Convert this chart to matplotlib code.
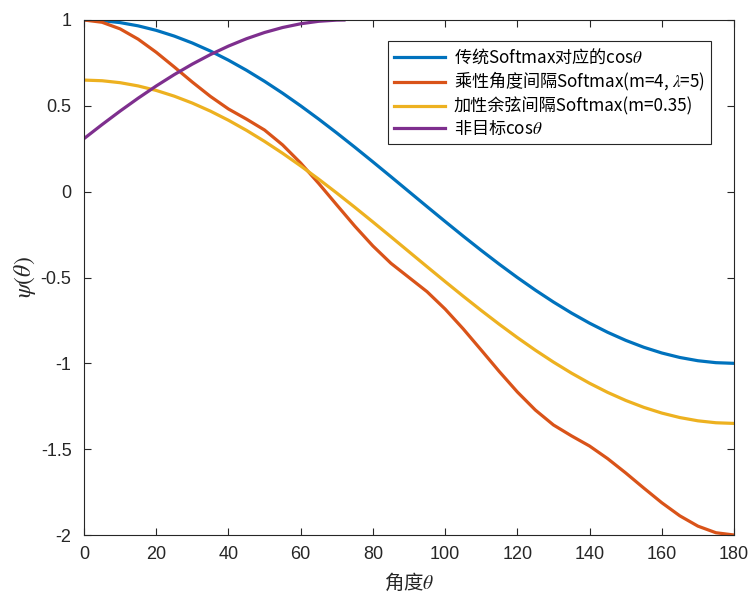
import numpy as np
import matplotlib
matplotlib.use("Agg")
import matplotlib.pyplot as plt

plt.rcParams['font.family'] = ['Liberation Sans', 'Noto Sans CJK SC', 'DejaVu Sans']
plt.rcParams['mathtext.fontset'] = 'stix'

# angle samples (degrees)
theta = [0, 5, 10, 15, 20, 25, 30, 35, 40, 45, 50, 55, 60, 65, 70, 75, 80, 85, 90,
         95, 100, 105, 110, 115, 120, 125, 130, 135, 140, 145, 150, 155, 160, 165, 170, 175, 180]

# traditional softmax, cos(theta)
psi_softmax = [1.0, 0.9962, 0.9848, 0.9659, 0.9397, 0.9063, 0.8660, 0.8192, 0.7660, 0.7071,
               0.6428, 0.5736, 0.5, 0.4226, 0.3420, 0.2588, 0.1736, 0.0872, 0.0,
               -0.0872, -0.1736, -0.2588, -0.3420, -0.4226, -0.5, -0.5736, -0.6428, -0.7071,
               -0.7660, -0.8192, -0.8660, -0.9063, -0.9397, -0.9659, -0.9848, -0.9962, -1.0]

# multiplicative angular margin (m=4, lambda=5)
psi_angular = [1.0, 0.9868, 0.9483, 0.8883, 0.8120, 0.7263, 0.6383, 0.5550, 0.4817, 0.4226,
               0.3590, 0.2723, 0.1667, 0.0478, -0.0773, -0.2010, -0.3163, -0.4173, -0.5,
               -0.5827, -0.6837, -0.7990, -0.9227, -1.0478, -1.1667, -1.2723, -1.3590, -1.4226,
               -1.4817, -1.5550, -1.6383, -1.7263, -1.8120, -1.8883, -1.9483, -1.9868, -2.0]

# additive cosine margin (m=0.35)
psi_cosine = [0.65, 0.6462, 0.6348, 0.6159, 0.5897, 0.5563, 0.5160, 0.4692, 0.4160, 0.3571,
              0.2928, 0.2236, 0.15, 0.0726, -0.0080, -0.0912, -0.1764, -0.2628, -0.35,
              -0.4372, -0.5236, -0.6088, -0.6920, -0.7726, -0.85, -0.9236, -0.9928, -1.0571,
              -1.1160, -1.1692, -1.2160, -1.2563, -1.2897, -1.3159, -1.3348, -1.3462, -1.35]

# non-target cos
theta_nt = [0, 5, 10, 15, 20, 25, 30, 35, 40, 45, 50, 55, 60, 65, 70, 72]
psi_nontarget = [0.3090, 0.3907, 0.4695, 0.5446, 0.6157, 0.6820, 0.7431, 0.7986, 0.8480,
                 0.8910, 0.9272, 0.9563, 0.9781, 0.9925, 0.9994, 1.0]

labels = [r'传统Softmax对应的cos$\theta$',
          r'乘性角度间隔Softmax(m=4, $\lambda$=5)',
          r'加性余弦间隔Softmax(m=0.35)',
          r'非目标cos$\theta$']
colors = ['#0072BD', '#D95319', '#EDB120', '#7E2F8E']

fig = plt.figure(figsize=(7.52, 5.97), dpi=100)
ax = fig.add_axes([84 / 752, 1 - 535 / 597, 650 / 752, 515 / 597])

ax.plot(theta, psi_softmax, color=colors[0], lw=2.3, label=labels[0])
ax.plot(theta, psi_angular, color=colors[1], lw=2.3, label=labels[1])
ax.plot(theta, psi_cosine, color=colors[2], lw=2.3, label=labels[2])
ax.plot(theta_nt, psi_nontarget, color=colors[3], lw=2.3, label=labels[3])

ax.set_xlim(0, 180)
ax.set_ylim(-2, 1)
ax.set_xticks(np.arange(0, 181, 20))
ax.set_yticks([-2, -1.5, -1, -0.5, 0, 0.5, 1])
ax.set_yticklabels(['-2', '-1.5', '-1', '-0.5', '0', '0.5', '1'])
ax.tick_params(direction='in', top=True, right=True, labelsize=13, length=5,
               color='#262626', labelcolor='#262626', width=0.8)
ax.tick_params(axis='x', pad=8)
ax.tick_params(axis='y', pad=9)
for s in ax.spines.values():
    s.set_color('#262626')
    s.set_linewidth(0.8)

cjk = 'Noto Sans CJK SC'
ax.set_xlabel(r'角度$\theta$', fontsize=14, color='#262626', labelpad=6, family=cjk)
ax.set_ylabel(r'$\psi(\theta)$', fontsize=17, color='#262626', labelpad=2)

leg = ax.legend(loc='upper left', bbox_to_anchor=(0.468, 0.959), borderaxespad=0,
                fancybox=False, framealpha=1, edgecolor='#262626',
                handlelength=3.0, handletextpad=0.5, labelspacing=0.22, borderpad=0.35,
                prop={'family': cjk, 'size': 12.3})
leg.get_frame().set_linewidth(0.8)

fig.savefig('out.png', dpi=100)
